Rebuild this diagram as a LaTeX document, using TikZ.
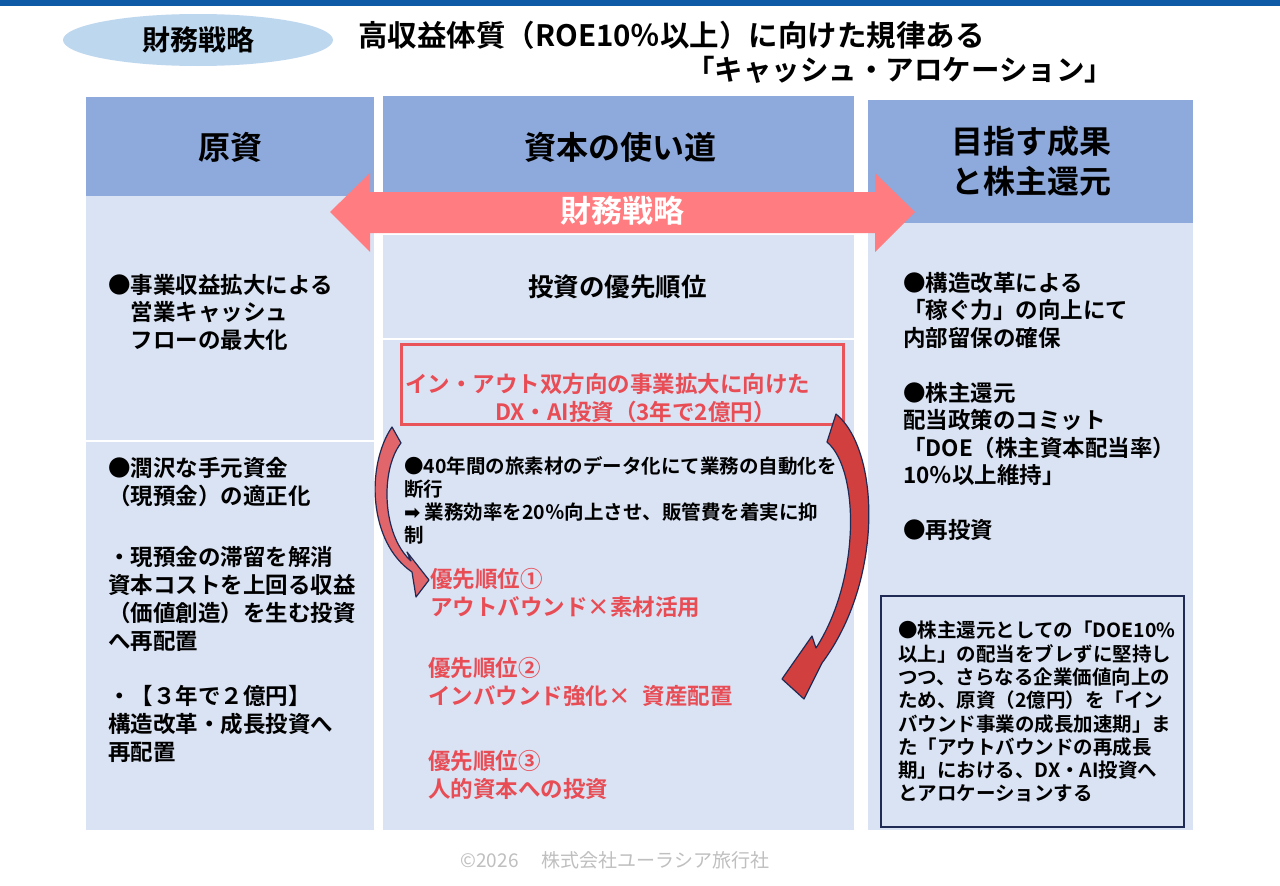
\documentclass[tikz,border=0pt]{standalone}
\usepackage{fontspec}
\setmainfont{Noto Sans CJK JP}[BoldFont={Noto Sans CJK JP Bold}]
\newfontfamily\symfont{DejaVu Sans}
\usetikzlibrary{shapes.geometric}
\definecolor{barblue}{HTML}{0E5AA7}
\definecolor{ovalblue}{HTML}{BDD7EE}
\definecolor{hdrblue}{HTML}{8EA9DB}
\definecolor{bodyblue}{HTML}{DAE3F3}
\definecolor{bandpink}{HTML}{FF7C80}
\definecolor{boxred}{HTML}{E9545A}
\definecolor{txtred}{HTML}{E84C55}
\definecolor{navy}{HTML}{1F2A55}
\definecolor{lcurve}{HTML}{E0666B}
\definecolor{rcurve}{HTML}{D23F3F}
\definecolor{footgray}{HTML}{BFBFBF}
\begin{document}
\begin{tikzpicture}[x=1pt,y=-1pt,
  colhdr/.style={font=\fontsize{32}{40}\selectfont\bfseries, align=center, inner sep=0},
  bodytxt/.style={font=\fontsize{22.5}{27.5}\selectfont\bfseries, align=left, anchor=north west, inner sep=0},
  redtxt/.style={bodytxt, text=txtred, font=\fontsize{22.5}{28}\selectfont\bfseries},
  smalltxt/.style={font=\fontsize{19.5}{23}\selectfont\bfseries, align=left, anchor=north west, inner sep=0},
  curvearrow/.style={draw=navy, line width=1.2, line join=round}]
\useasboundingbox (0,0) rectangle (1280,886);
\fill[white] (0,0) rectangle (1280,886);
\fill[barblue] (0,0) rectangle (1280,6);
\node[ellipse, fill=ovalblue, minimum width=270, minimum height=52, inner sep=0, font=\fontsize{28}{30}\selectfont\bfseries] (tag) at (198,40) {財務戦略};
\node[anchor=west, inner sep=0, font=\fontsize{29.5}{30}\selectfont\bfseries] (title1) at (358,35) {高収益体質（ROE10％以上）に向けた規律ある};
\node[anchor=west, inner sep=0, font=\fontsize{28.5}{30}\selectfont\bfseries] (title2) at (686,70) {「キャッシュ・アロケーション」};
\fill[hdrblue] (86,97) rectangle (374,196);
\fill[bodyblue] (86,196) rectangle (374,440);
\fill[bodyblue] (86,441.5) rectangle (374,830);
\fill[hdrblue] (383,96) rectangle (854,200);
\fill[bodyblue] (383,235) rectangle (854,338);
\fill[bodyblue] (383,340) rectangle (854,830);
\fill[hdrblue] (868,100) rectangle (1193,223);
\fill[bodyblue] (868,223) rectangle (1193,830);
\node[colhdr] (srchdr) at (230,147) {原資};
\node[colhdr] (usehdr) at (620,147) {資本の使い道};
\node[colhdr] (goalhdr) at (1031,161) {目指す成果\\と株主還元};
\fill[bandpink] (330,212) -- (370,173) -- (370,192) -- (875,192) -- (875,173) -- (915,212) -- (875,252) -- (875,233) -- (370,233) -- (370,252) -- cycle;
\node[text=white, inner sep=0, font=\fontsize{31}{33}\selectfont\bfseries] (band) at (622,211) {財務戦略};
\node[bodytxt, anchor=west] (prio) at (528,287) {\fontsize{25.5}{28}\selectfont 投資の優先順位};
\node[draw=boxred, line width=3, minimum width=442, minimum height=80, inner sep=0] (dxbox) at (622,384) {};
\node[redtxt] (dxtxt) at (405,373) {イン・アウト双方向の事業拡大に向けた\\\hspace*{4em}DX・AI投資（3年で2億円）};
\node[smalltxt] (dxnote) at (404,456) {●40年間の旅素材のデータ化にて業務の自動化を\\断行\\{\symfont ➡} 業務効率を20％向上させ、販管費を着実に抑\\制};
\node[redtxt] (prio1) at (430,568) {優先順位①\\アウトバウンド×素材活用};
\node[redtxt] (prio2) at (428,657) {優先順位②\\インバウンド強化×\hspace{12pt}資産配置};
\node[redtxt] (prio3) at (428,750) {優先順位③\\人的資本への投資};
\node[bodytxt] (src1) at (108,274) {●事業収益拡大による\\\hspace*{1em}営業キャッシュ\\\hspace*{1em}フローの最大化};
\node[bodytxt, font=\fontsize{22.5}{28}\selectfont\bfseries] (src2) at (108,457) {●潤沢な手元資金\\（現預金）の適正化};
\node[bodytxt, font=\fontsize{22.5}{28}\selectfont\bfseries] (src3) at (108,546) {・現預金の滞留を解消\\資本コストを上回る収益\\（価値創造）を生む投資\\へ再配置};
\node[bodytxt, font=\fontsize{22.5}{28}\selectfont\bfseries] (src4) at (108,685) {・【３年で２億円】\\構造改革・成長投資へ\\再配置};
\node[bodytxt] (goal1) at (903,272) {●構造改革による\\「稼ぐ力」の向上にて\\内部留保の確保};
\node[bodytxt] (goal2) at (903,382) {●株主還元\\配当政策のコミット\\「DOE（株主資本配当率）\\10％以上維持」};
\node[bodytxt] (goal3) at (903,519) {●再投資};
\node[draw=navy, line width=2.5, minimum width=303, minimum height=231, inner sep=0] (doebox) at (1032.5,711.5) {};
\node[smalltxt, font=\fontsize{19.5}{23.3}\selectfont\bfseries] (doetxt) at (898,621) {●株主還元としての「DOE10\%\\以上」の配当をブレずに堅持し\\つつ、さらなる企業価値向上の\\ため、原資（2億円）を「イン\\バウンド事業の成長加速期」ま\\た「アウトバウンドの再成長\\期」における、DX・AI投資へ\\とアロケーションする};
\filldraw[curvearrow, fill=lcurve] (392,427) .. controls (366,465) and (368,542) .. (412,572) -- (416,597) -- (429,580) -- (407,552) -- (411,561) .. controls (382,535) and (380,470) .. (401,443) -- cycle;
\filldraw[curvearrow, fill=rcurve] (836,414) .. controls (880,450) and (884,580) .. (822,663) -- (804,699) -- (782,679) -- (812,636) -- (816,648) .. controls (860,580) and (860,470) .. (827,442) -- cycle;
\node[text=footgray, inner sep=0, font=\fontsize{19}{20}\selectfont] (foot) at (615,860) {©2026\quad\ 株式会社ユーラシア旅行社};
\end{tikzpicture}
\end{document}
